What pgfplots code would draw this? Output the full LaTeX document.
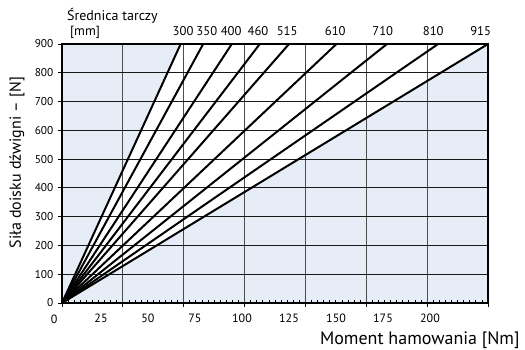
\documentclass[border=0pt]{standalone}
\usepackage{fontspec}
\setmainfont{PT Sans}
\usepackage{pgfplots}
\pgfplotsset{compat=1.18}
\definecolor{bgblue}{HTML}{E6EDF7}

\begin{document}
\begin{tikzpicture}
% page = 525 x 350 px, 1 px = 0.75 pt, axis corner at (62,303) px
\begin{axis}[
    at={(0,0)}, anchor=south west,
    width=319.5pt, height=194.25pt, scale only axis,
    set layers, clip mode=individual,
    xmin=0, xmax=7, ymin=0, ymax=900,
    xtick={0,...,7}, xticklabels={},
    ytick={0,100,...,900},
    minor x tick num=9,
    tick pos=left, tick align=outside,
    major tick length=3pt, minor tick length=2.25pt,
    minor x tick style={yshift=2.25pt, line width=0.6pt},
    grid=major,
    major x grid style={black!70, line width=0.9pt},
    major y grid style={black!90, line width=0.75pt},
    axis line style={black, line width=0.8pt},
    tick style={black, line width=0.6pt},
    extra x ticks={0.641,1.413,2.185,2.958,3.730,4.503,5.275,6.047},
    extra x tick labels={25,50,75,100,125,150,175,200},
    extra x tick style={grid=none, major tick length=0pt},
    /pgf/number format/assume math mode=true,
    yticklabel style={font=\fontsize{8.5}{10}\selectfont},
    xticklabel style={font=\fontsize{9}{10}\selectfont, yshift=-4.5pt},
    ylabel={Siła doisku dźwigni – [N]},
    every axis y label/.style={at={(axis description cs:-0.1056,0.542)}, rotate=90, anchor=center, font=\fontsize{12}{14}\selectfont},
    xlabel={Moment hamowania [Nm]},
    every axis x label/.style={at={(axis description cs:0.84,0)}, yshift=-28pt, anchor=center, font=\fontsize{13.5}{15}\selectfont},
]
% background and white wedge between the extreme lines
\addplot[on layer=axis background, fill=bgblue, draw=none] coordinates {(0,0) (0,900) (7,900) (7,0)} -- cycle;
\addplot[on layer=axis background, fill=white, draw=none] coordinates {(0,0) (1.95,900) (7,900)} -- cycle;

% lines for each disc diameter
\addplot[black, line width=1.5pt] coordinates {(0,0) (1.95,900)};
\addplot[black, line width=1.5pt] coordinates {(0,0) (2.32,900)};
\addplot[black, line width=1.5pt] coordinates {(0,0) (2.79,900)};
\addplot[black, line width=1.5pt] coordinates {(0,0) (3.25,900)};
\addplot[black, line width=1.5pt] coordinates {(0,0) (3.73,900)};
\addplot[black, line width=1.5pt] coordinates {(0,0) (4.51,900)};
\addplot[black, line width=1.5pt] coordinates {(0,0) (5.34,900)};
\addplot[black, line width=1.5pt] coordinates {(0,0) (6.18,900)};
\addplot[black, line width=1.5pt] coordinates {(0,0) (7.00,900)};

% zero label on the x axis sits left of the corner
\node[anchor=north, font=\fontsize{9}{10}\selectfont, yshift=-5.5pt] at (axis cs:-0.131,0) {0};

% disc diameters above the plot
\begin{scope}[every node/.style={anchor=base, font=\fontsize{9.5}{11}\selectfont, yshift=6.75pt}]
\node at (axis cs:1.99,900) {300};
\node at (axis cs:2.38,900) {350};
\node at (axis cs:2.78,900) {400};
\node at (axis cs:3.22,900) {460};
\node at (axis cs:3.70,900) {515};
\node at (axis cs:4.49,900) {610};
\node at (axis cs:5.27,900) {710};
\node at (axis cs:6.10,900) {810};
\node at (axis cs:6.88,900) {915};
\end{scope}
\node[anchor=base west, inner sep=0pt, font=\fontsize{10.5}{12}\selectfont, yshift=17.5pt] at (axis cs:0.08,900) {Średnica tarczy};
\node[anchor=base west, inner sep=0pt, font=\fontsize{10}{12}\selectfont, yshift=6.75pt] at (axis cs:0.13,900) {[mm]};
\end{axis}
\pgfresetboundingbox
\path[use as bounding box] (-46.5pt,-35.25pt) rectangle (347.25pt,227.25pt);
\end{tikzpicture}
\end{document}
